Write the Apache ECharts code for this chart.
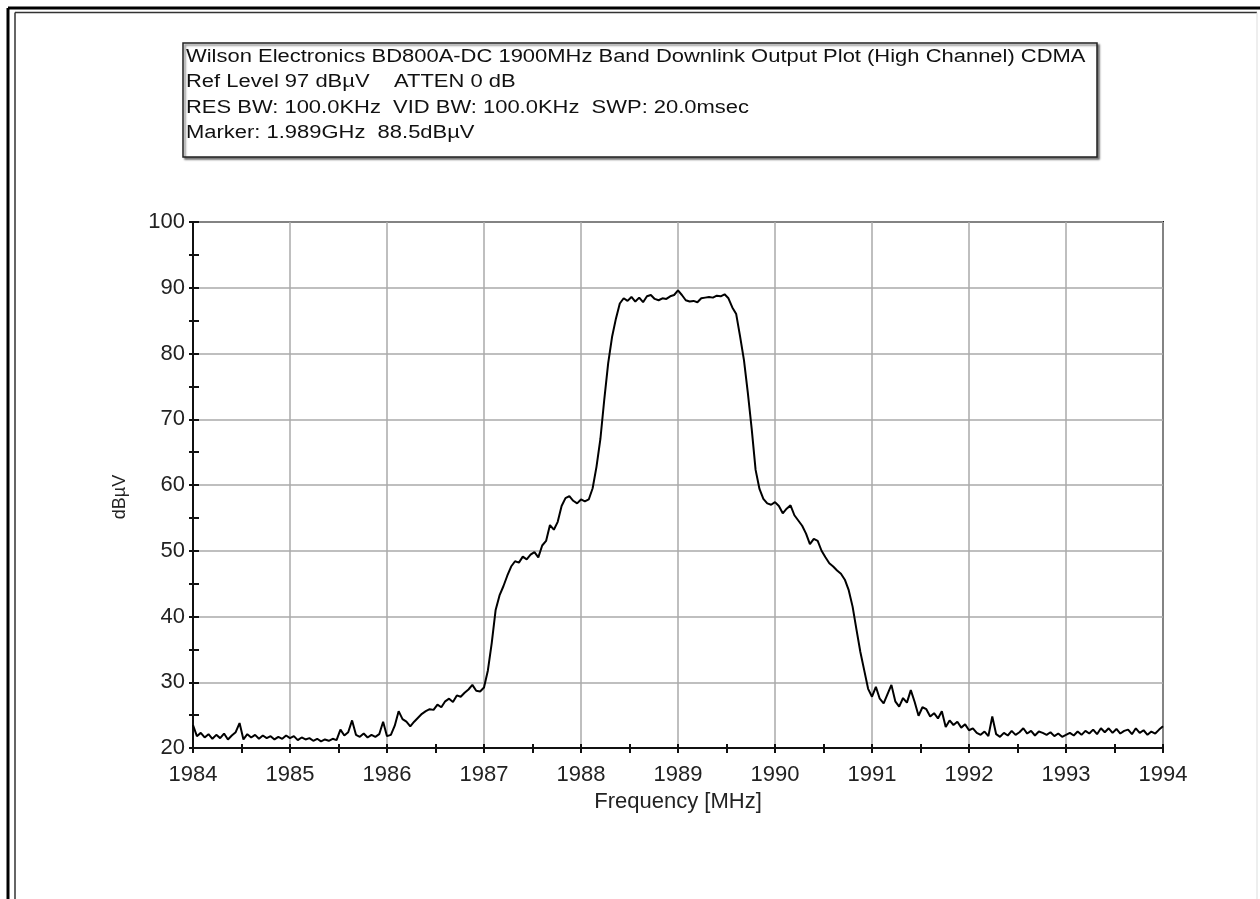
<!DOCTYPE html>
<html>
<head>
<meta charset="utf-8">
<script src="https://cdn.jsdelivr.net/npm/echarts@6/dist/echarts.min.js"></script>
<style>
  html, body { margin: 0; padding: 0; background: #fff; }
  #spectrum { width: 1260px; height: 899px; }
</style>
</head>
<body>
<div id="spectrum"></div>
<script>
// sweep grid (MHz), one reading every 0.04 MHz from 1984 to 1994
var sweepStart = 1984;
var sweepStep = 0.04;

// dBuV readings
var level = [
  23.5, 21.8, 22.3, 21.6, 22.1, 21.4, 22.0, 21.5, 22.2, 21.3, 21.9, 22.4, 23.8, 21.3, 22.1, 21.6, 22.0, 21.4, 21.9, 21.5, 21.8, 21.3, 21.7, 21.4, 21.9,
  21.5, 21.8, 21.2, 21.6, 21.3, 21.5, 21.1, 21.4, 21.0, 21.3, 21.1, 21.4, 21.2, 22.8, 21.9, 22.4, 24.2, 22.0, 21.7, 22.2, 21.6, 22.0, 21.7, 22.1, 24.0,
  21.8, 22.0, 23.4, 25.6, 24.4, 24.0, 23.3, 24.0, 24.6, 25.2, 25.6, 25.9, 25.8, 26.6, 26.2, 27.1, 27.5, 27.0, 28.0, 27.8, 28.4, 28.9, 29.6, 28.7, 28.6,
  29.2, 31.8, 36.0, 41.0, 43.2, 44.6, 46.2, 47.6, 48.4, 48.2, 49.1, 48.7, 49.4, 49.8, 49.0, 50.8, 51.5, 53.9, 53.2, 54.4, 56.8, 58.0, 58.3, 57.6, 57.2,
  57.8, 57.5, 57.8, 59.5, 62.8, 67.0, 73.0, 78.5, 82.5, 85.3, 87.6, 88.4, 88.0, 88.6, 87.9, 88.5, 87.8, 88.7, 88.9, 88.3, 88.1, 88.4, 88.3, 88.7, 88.9,
  89.6, 88.9, 88.1, 87.9, 88.0, 87.8, 88.4, 88.5, 88.6, 88.5, 88.8, 88.7, 89.0, 88.4, 87.0, 86.0, 82.6, 79.0, 74.0, 68.5, 62.3, 59.4, 57.9, 57.2, 57.0,
  57.4, 56.8, 55.7, 56.4, 56.9, 55.4, 54.6, 53.8, 52.6, 51.0, 51.8, 51.5, 50.0, 49.0, 48.1, 47.6, 47.0, 46.5, 45.6, 44.0, 41.5, 38.0, 34.6, 31.8, 29.0,
  27.8, 29.3, 27.5, 26.8, 28.2, 29.6, 27.1, 26.3, 27.6, 26.9, 28.8, 27.0, 24.9, 26.2, 25.9, 24.8, 25.3, 24.5, 25.6, 23.2, 24.2, 23.5, 24.0, 23.1, 23.6,
  22.7, 23.0, 22.3, 22.0, 22.5, 21.8, 24.8, 22.1, 21.7, 22.3, 21.9, 22.6, 22.0, 22.4, 23.0, 22.2, 22.6, 21.9, 22.5, 22.3, 22.0, 22.4, 21.8, 22.2, 21.7,
  22.0, 22.3, 21.9, 22.5, 22.0, 22.6, 22.2, 22.8, 22.1, 23.0, 22.4, 23.0, 22.3, 22.9, 22.2, 22.6, 22.8, 22.1, 23.0, 22.3, 22.7, 22.0, 22.5, 22.2, 22.8,
  23.3
];

var headerLines = [
  'Wilson Electronics BD800A-DC 1900MHz Band Downlink Output Plot (High Channel) CDMA',
  'Ref Level 97 dB\u00b5V    ATTEN 0 dB',
  'RES BW: 100.0KHz  VID BW: 100.0KHz  SWP: 20.0msec',
  'Marker: 1.989GHz  88.5dB\u00b5V'
];

var trace = level.map(function (v, i) {
  return [+(sweepStart + i * sweepStep).toFixed(2), v];
});

var chart = echarts.init(document.getElementById('spectrum'));
var font = '"Liberation Sans", Arial, sans-serif';

var headerText = headerLines.map(function (t, i) {
  return {
    type: 'text',
    x: 186,
    y: 57 + i * 25.5,
    scaleX: 1.22,
    style: { text: t, font: '18px ' + font, fill: '#111', verticalAlign: 'middle' }
  };
});

option = {
  animation: false,
  backgroundColor: '#fff',
  grid: {
    left: 193, right: 97, top: 222, bottom: 151,
    show: true, borderColor: '#111', borderWidth: 2
  },
  xAxis: [{
    type: 'value', min: 1984, max: 1994, interval: 1,
    name: 'Frequency [MHz]', nameLocation: 'middle', nameGap: 42,
    nameTextStyle: { fontFamily: font, fontSize: 22, color: '#222' },
    axisLine: { lineStyle: { color: '#111', width: 2 } },
    axisTick: { length: 5, lineStyle: { color: '#111', width: 2 } },
    minorTick: { show: true, splitNumber: 2, length: 5, lineStyle: { color: '#111', width: 2 } },
    axisLabel: {
      fontFamily: font, fontSize: 22, color: '#222', margin: 16,
      formatter: function (v) { return String(v); }
    },
    splitLine: { lineStyle: { color: '#aaa', width: 1.5 } }
  }, {
    type: 'value', min: 1984, max: 1994, interval: 1, position: 'bottom', offset: 0,
    axisLine: { show: false },
    axisTick: { inside: true, length: 4, lineStyle: { color: '#111', width: 2 } },
    minorTick: { show: true, splitNumber: 2, length: 4, lineStyle: { color: '#111', width: 2 } },
    axisLabel: { show: false },
    splitLine: { show: false }
  }],
  yAxis: [{
    type: 'value', min: 20, max: 100, interval: 10,
    name: 'dB\u00b5V', nameLocation: 'middle', nameGap: 64, nameRotate: 90,
    nameTextStyle: { fontFamily: font, fontSize: 18, color: '#222', padding: [0, 24, 0, 0] },
    axisLine: { lineStyle: { color: '#111', width: 2 } },
    axisTick: { length: 4, lineStyle: { color: '#111', width: 2 } },
    minorTick: { show: true, splitNumber: 2, length: 4, lineStyle: { color: '#111', width: 2 } },
    axisLabel: { fontFamily: font, fontSize: 22, color: '#222', margin: 8 },
    splitLine: { lineStyle: { color: '#aaa', width: 1.5 } }
  }, {
    type: 'value', min: 20, max: 100, interval: 10, position: 'left', offset: 0,
    axisLine: { show: false },
    axisTick: { inside: true, length: 6, lineStyle: { color: '#111', width: 2 } },
    minorTick: { show: true, splitNumber: 2, length: 6, lineStyle: { color: '#111', width: 2 } },
    axisLabel: { show: false },
    splitLine: { show: false }
  }],
  series: [{
    type: 'line',
    data: trace,
    showSymbol: false,
    lineStyle: { color: '#000', width: 2 },
    z: 5
  }],
  graphic: [
    // page frame
    { type: 'line', shape: { x1: 8, y1: 8, x2: 1260, y2: 8 }, style: { stroke: '#000', lineWidth: 3 } },
    { type: 'line', shape: { x1: 8, y1: 8, x2: 8, y2: 899 }, style: { stroke: '#000', lineWidth: 3 } },
    { type: 'line', shape: { x1: 15, y1: 12.5, x2: 1257, y2: 12.5 }, style: { stroke: '#333', lineWidth: 1.5 } },
    { type: 'line', shape: { x1: 15, y1: 12.5, x2: 15, y2: 899 }, style: { stroke: '#333', lineWidth: 1.5 } },
    { type: 'line', shape: { x1: 1257, y1: 12.5, x2: 1257, y2: 899 }, style: { stroke: '#ddd', lineWidth: 1 } },
    // header box
    {
      type: 'rect',
      shape: { x: 183, y: 43, width: 914, height: 114 },
      style: {
        fill: '#fff', stroke: '#222', lineWidth: 1.5,
        shadowBlur: 2, shadowOffsetX: 2, shadowOffsetY: 2, shadowColor: 'rgba(0,0,0,0.5)'
      }
    }
  ].concat(headerText)
};

chart.setOption(option);
</script>
</body>
</html>
